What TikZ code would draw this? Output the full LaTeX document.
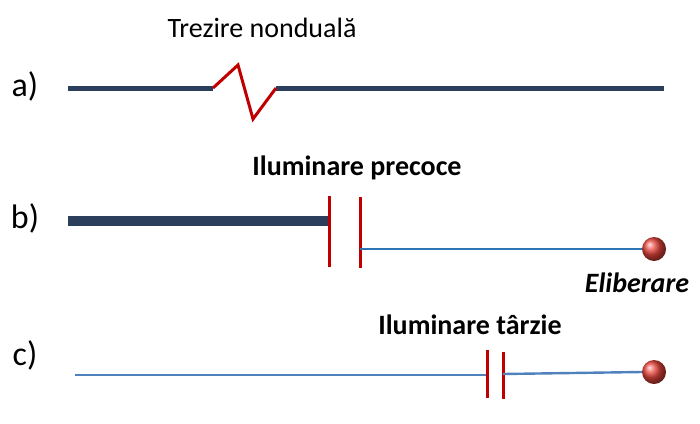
\documentclass[tikz,border=0pt]{standalone}
\usepackage{fontspec}
\setmainfont{Carlito}
\usetikzlibrary{shadings}
\definecolor{navy}{HTML}{2B3F5C}
\definecolor{dred}{HTML}{C00000}
\definecolor{lblue}{HTML}{2E75B6}
\definecolor{cblue}{HTML}{4F81BD}
\definecolor{ballred}{HTML}{E8453C}
\begin{document}
\begin{tikzpicture}[x=1pt,y=-1pt,
  lbl/.style={font=\fontsize{34}{38}\selectfont, inner sep=0pt},
  ttl/.style={font=\fontsize{28}{32}\selectfont, inner sep=0pt},
  redbar/.style={dred, line width=3pt},
  ball/.style={circle, minimum size=24pt, inner sep=0pt, ball color=ballred, draw=none}]
\useasboundingbox (0,0) rectangle (700,423);
% a)
\node[lbl] (la) at (25,86) {a)};
\node[ttl] (ta) at (262,28) {Trezire nonduală};
\coordinate (a0) at (68,88);
\coordinate (a1) at (213,88);
\coordinate (a2) at (238,65);
\coordinate (a3) at (253,119);
\coordinate (a4) at (276,88);
\coordinate (a5) at (664,88);
\draw[navy, line width=5pt] (a0) -- (a1);
\draw[navy, line width=5pt] (a4) -- (a5);
\draw[dred, line width=3pt, line join=miter] (a1) -- (a2) -- (a3) -- (a4);
% b)
\node[lbl] (lb) at (25,218) {b)};
\node[ttl, font=\fontsize{28}{32}\selectfont\bfseries] (tb) at (357,168) {Iluminare precoce};
\coordinate (b0) at (68,221);
\coordinate (b1) at (329,221);
\draw[navy, line width=10pt] (b0) -- (b1);
\coordinate (r1t) at (329,196); \coordinate (r1b) at (329,267);
\coordinate (r2t) at (360,197); \coordinate (r2b) at (360,268);
\draw[redbar] (r1t) -- (r1b);
\draw[redbar] (r2t) -- (r2b);
\node[ball] (bb) at (654,249) {};
\coordinate (b2) at (360,249);
\draw[lblue, line width=2.5pt] (b2) -- (bb.west);
\node[ttl, font=\fontsize{28}{32}\selectfont\bfseries\itshape] (el) at (637,283) {Eliberare};
% c)
\node[lbl] (lc) at (25,355) {c)};
\node[ttl, font=\fontsize{28}{32}\selectfont\bfseries] (tc) at (470,325) {Iluminare târzie};
\coordinate (c0) at (75,375);
\coordinate (c1) at (487,375);
\draw[cblue, line width=2.4pt] (c0) -- (c1);
\coordinate (s1t) at (487,350); \coordinate (s1b) at (487,398);
\coordinate (s2t) at (503,352); \coordinate (s2b) at (503,399);
\draw[redbar] (s1t) -- (s1b);
\draw[redbar] (s2t) -- (s2b);
\node[ball] (cb) at (654,372) {};
\coordinate (c2) at (503,374);
\draw[cblue, line width=2.4pt] (c2) -- (cb.west);
\end{tikzpicture}
\end{document}
